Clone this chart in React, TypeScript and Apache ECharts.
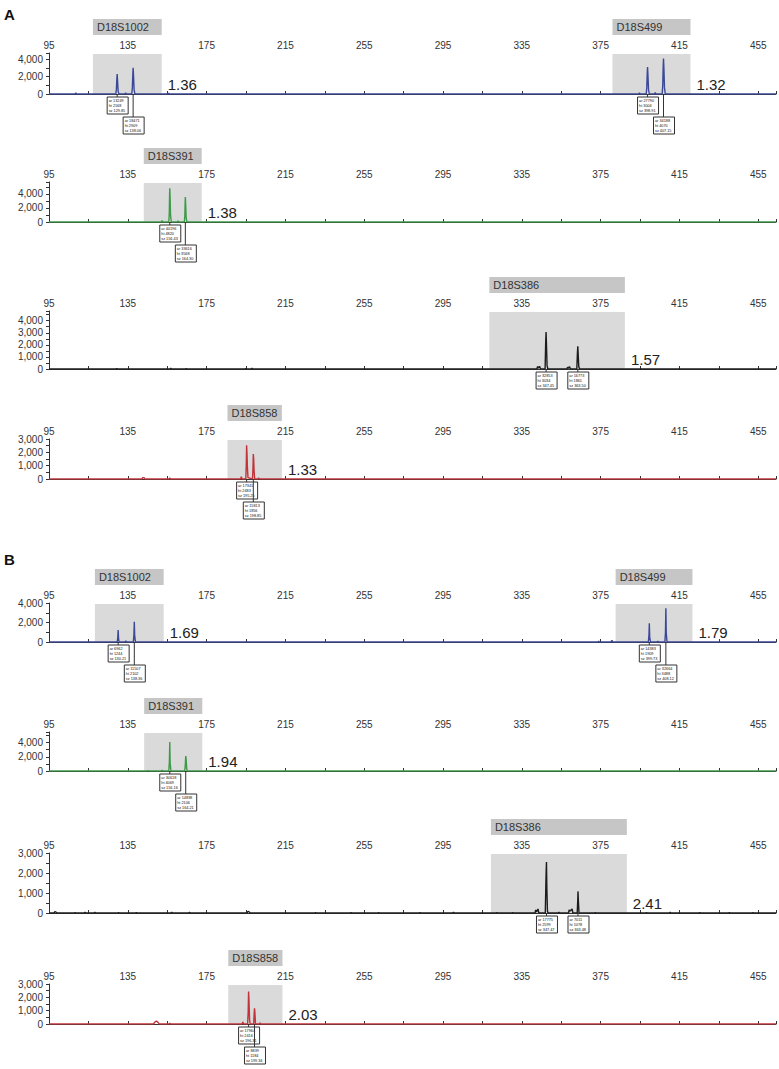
import React, { useEffect, useRef } from "react";
import * as echarts from "echarts";

const FONT = "'Liberation Sans', Arial, Helvetica, sans-serif";

// ---- x axis (fragment size, bp) ----
const X_MIN = 95;
const X_MAX = 464;
const X_TICK_STEP = 20;
const X_LABEL_STEP = 40;

// ---- y axes (RFU) per panel: A1..A4, B1..B4 ----
const yMax = [4700, 5700, 4800, 3000, 4000, 5500, 3000, 3000];
const yTickStep = [1000, 1000, 500, 500, 1000, 1000, 500, 500];
const yLabelStep = [2000, 2000, 1000, 1000, 2000, 2000, 1000, 1000];

// ---- dye colours per panel ----
const traceColors = ["#3b4898", "#3d9a48", "#1c1c1c", "#c3343a", "#3b4898", "#3d9a48", "#1c1c1c", "#c3343a"];

// ---- marker bins: [name, start bp, end bp, ratio] ----
const binsA1 = [["D18S1002", 117.3, 152.2, "1.36"], ["D18S499", 381, 420.6, "1.32"]];
const binsA2 = [["D18S391", 143.1, 172.5, "1.38"]];
const binsA3 = [["D18S386", 318.5, 387.3, "1.57"]];
const binsA4 = [["D18S858", 185.6, 213.2, "1.33"]];
const binsB1 = [["D18S1002", 118.3, 153.2, "1.69"], ["D18S499", 382.6, 421.6, "1.79"]];
const binsB2 = [["D18S391", 143.3, 172.8, "1.94"]];
const binsB3 = [["D18S386", 319.3, 388.3, "2.41"]];
const binsB4 = [["D18S858", 186, 213.5, "2.03"]];

// ---- peak annotations: [size bp, stagger level, area, height, size label] ----
const annA1 = [[129.6, 0, "13249", "2168", "129.85"], [137.7, 1, "18471", "2909", "138.06"], [398.8, 0, "27790", "3004", "398.91"], [406.9, 1, "34188", "4070", "407.15"]];
const annA2 = [[156.3, 0, "40196", "4820", "156.43"], [164.2, 1, "33616", "3568", "164.30"]];
const annA3 = [[347.3, 0, "32853", "3034", "347.45"], [363.4, 0, "16773", "1861", "363.50"]];
const annA4 = [[195.3, 0, "17341", "2483", "195.25"], [198.7, 1, "15813", "1856", "198.85"]];
const annB1 = [[130.1, 0, "6962", "1244", "130.21"], [138.3, 1, "11507", "2102", "138.36"], [399.7, 0, "14383", "1909", "399.73"], [408.1, 1, "32664", "3488", "408.12"]];
const annB2 = [[156.3, 0, "30618", "4069", "156.16"], [164.4, 1, "14838", "2106", "164.21"]];
const annB3 = [[347.5, 0, "17775", "2599", "347.47"], [363.5, 0, "7011", "1078", "363.48"]];
const annB4 = [[196.3, 0, "17964", "2416", "196.31"], [199.3, 1, "8839", "1184", "199.34"]];

// ---- traces: [size bp, RFU] ----
const traceA1 = [[95, 0], [108.2, 0], [108.6, 120], [109, 0], [128.9, 0], [129.2, 500], [129.45, 1800], [129.6, 2300], [129.8, 1500], [130.1, 300], [130.5, 0], [133.6, 0], [133.9, 140], [134.2, 0], [137, 0], [137.3, 700], [137.55, 2300], [137.7, 3000], [137.9, 2100], [138.2, 500], [138.6, 0], [155.5, 0], [155.8, 80], [156.1, 0], [394.4, 0], [394.7, 120], [395, 0], [398.1, 0], [398.4, 700], [398.65, 2400], [398.8, 3100], [399, 2200], [399.3, 500], [399.7, 0], [402.4, 0], [402.7, 180], [403, 0], [406.2, 0], [406.5, 900], [406.75, 3200], [406.9, 4080], [407.1, 3000], [407.4, 700], [407.8, 0], [464, 0]];
const traceA2 = [[95, 0], [152.1, 0], [152.4, 220], [152.7, 0], [155.8, 0], [156.05, 1200], [156.2, 3800], [156.3, 4800], [156.45, 3700], [156.7, 900], [157.1, 0], [160.2, 0], [160.5, 180], [160.8, 0], [163.7, 0], [163.95, 900], [164.1, 2800], [164.2, 3570], [164.35, 2700], [164.6, 700], [165, 0], [464, 0]];
const traceA3 = [[95, 0], [129.2, 0], [129.4, 60], [129.6, 0], [156.6, 0], [156.8, 70], [157, 0], [164.5, 0], [164.7, 60], [164.9, 0], [194.8, 0], [195, 50], [195.2, 0], [197.8, 0], [198, 90], [198.2, 0], [342.6, 0], [343, 200], [343.4, 80], [344, 220], [344.5, 0], [346.8, 0], [347.1, 2200], [347.3, 3050], [347.5, 2000], [347.8, 300], [348.2, 0], [357.8, 0], [358.2, 150], [358.6, 60], [359.2, 200], [359.6, 0], [362.9, 0], [363.2, 1300], [363.4, 1880], [363.6, 1200], [363.9, 200], [364.3, 0], [464, 0]];
const traceA4 = [[95, 0], [142.2, 0], [142.5, 100], [143.3, 100], [143.6, 0], [156, 0], [156.3, 80], [156.6, 0], [164, 0], [164.2, 40], [164.4, 0], [192.2, 0], [192.6, 160], [193, 0], [194.9, 0], [195.15, 1200], [195.3, 2530], [195.5, 1900], [195.7, 900], [196, 100], [198.3, 0], [198.55, 900], [198.7, 1880], [198.9, 1500], [199.1, 600], [199.4, 0], [201.1, 0], [201.4, 100], [201.7, 0], [464, 0]];
const traceB1 = [[95, 0], [129.6, 0], [129.9, 400], [130.1, 1230], [130.3, 350], [130.6, 0], [133.7, 0], [134, 130], [134.3, 0], [137.8, 0], [138.1, 700], [138.3, 2080], [138.5, 600], [138.9, 0], [373.7, 0], [374, 100], [374.3, 0], [380.2, 0], [380.7, 180], [381.2, 0], [399.2, 0], [399.5, 600], [399.7, 1920], [399.9, 500], [400.3, 0], [403.7, 0], [404, 100], [404.3, 0], [407.6, 0], [407.9, 1000], [408.1, 3460], [408.3, 900], [408.7, 0], [464, 0]];
const traceB2 = [[95, 0], [145.1, 0], [145.4, 80], [145.7, 0], [152.1, 0], [152.4, 120], [152.7, 0], [155.8, 0], [156.1, 1300], [156.3, 4100], [156.5, 1100], [156.9, 0], [160.3, 0], [160.5, 80], [160.7, 0], [163.9, 0], [164.2, 900], [164.4, 2100], [164.6, 1700], [164.9, 300], [165.2, 0], [464, 0]];
const traceB3 = [[95, 0], [97.5, 0], [98, 70], [98.6, 40], [99, 0], [108, 0], [108.3, 30], [108.6, 0], [113, 0], [113.3, 40], [113.6, 0], [118, 0], [118.3, 35], [118.6, 0], [130, 0], [130.3, 30], [130.6, 0], [139, 0], [139.3, 30], [139.6, 0], [157, 0], [157.3, 40], [157.6, 0], [166, 0], [166.3, 35], [166.6, 0], [195.5, 0], [196, 80], [196.6, 60], [197, 0], [230, 0], [230.3, 30], [230.6, 0], [248, 0], [248.3, 30], [248.6, 0], [262, 0], [262.3, 30], [262.6, 0], [283, 0], [283.3, 30], [283.6, 0], [300, 0], [300.3, 40], [300.6, 0], [322, 0], [322.3, 30], [322.6, 0], [330, 0], [330.3, 30], [330.6, 0], [341.7, 0], [342, 150], [342.4, 60], [343.2, 200], [343.6, 0], [346.9, 0], [347.2, 1500], [347.35, 2100], [347.5, 2550], [347.7, 1200], [348, 100], [348.3, 0], [353.5, 0], [353.8, 40], [354.1, 0], [358.7, 0], [359, 150], [359.5, 100], [360.5, 200], [360.9, 0], [363.1, 0], [363.4, 700], [363.5, 1080], [363.7, 600], [364, 0], [372, 0], [372.3, 30], [372.6, 0], [398, 0], [398.3, 30], [398.6, 0], [410, 0], [410.3, 40], [410.6, 0], [425, 0], [425.3, 30], [425.6, 0], [440, 0], [440.3, 30], [440.6, 0], [452, 0], [452.3, 30], [452.6, 0], [464, 0]];
const traceB4 = [[95, 0], [148, 0], [148.8, 150], [149.5, 220], [150.3, 120], [151, 0], [156, 0], [156.3, 70], [156.6, 0], [164.8, 0], [165, 40], [165.2, 0], [193, 0], [193.4, 150], [193.8, 0], [195.8, 0], [196.1, 900], [196.3, 2430], [196.5, 1800], [196.8, 300], [197.1, 0], [198.9, 0], [199.1, 700], [199.3, 1180], [199.5, 900], [199.8, 0], [201.8, 0], [202.1, 80], [202.4, 0], [464, 0]];

const traces = [traceA1, traceA2, traceA3, traceA4, traceB1, traceB2, traceB3, traceB4];
const bins = [binsA1, binsA2, binsA3, binsA4, binsB1, binsB2, binsB3, binsB4];
const anns = [annA1, annA2, annA3, annA4, annB1, annB2, annB3, annB4];

// ---- layout (pixel rows of each panel: x-axis line and zero line) ----
const panelTop = [53, 182, 311, 439, 603, 732, 853, 984];
const panelBottom = [94, 222, 369, 479, 642, 771, 913, 1024];

const withCommas = (v: number) => String(v).replace(/\B(?=(\d{3})+(?!\d))/g, ",");

function buildOption() {
  const grid: any[] = [];
  const xAxis: any[] = [];
  const yAxis: any[] = [];
  const series: any[] = [];
  const axisColor = "#333";
  for (let i = 0; i < 8; i++) {
    grid.push({ left: 49, width: 729, top: panelTop[i], height: panelBottom[i] - panelTop[i] });
    xAxis.push({
      gridIndex: i, type: "value", position: "top", min: X_MIN, max: X_MAX, interval: X_TICK_STEP,
      axisLine: { show: true, lineStyle: { color: axisColor, width: 1 } },
      axisTick: { show: true, length: 3, lineStyle: { color: axisColor } },
      splitLine: { show: false },
      axisLabel: {
        show: true, margin: 3, fontSize: 10, color: "#333", fontFamily: FONT,
        formatter: (v: number) => { const r = Math.round(v); return (r - X_MIN) % X_LABEL_STEP === 0 && Math.abs(r - v) < 0.01 ? String(r) : ""; },
      },
    });
    const step = yLabelStep[i];
    yAxis.push({
      gridIndex: i, type: "value", min: 0, max: yMax[i], interval: yTickStep[i],
      axisLine: { show: true, lineStyle: { color: axisColor, width: 1 } },
      axisTick: { show: true, length: 3, lineStyle: { color: axisColor } },
      splitLine: { show: false },
      axisLabel: {
        show: true, margin: 6, fontSize: 10, color: "#333", fontFamily: FONT,
        formatter: (v: number) => (v % step === 0 ? withCommas(v) : ""),
      },
    });
    const pb = bins[i];
    series.push({
      type: "custom", xAxisIndex: i, yAxisIndex: i, z: 1, clip: false, silent: true,
      data: pb.map((b: any) => [b[1], 0]),
      renderItem: (params: any, api: any) => {
        const b: any = pb[params.dataIndex];
        const cs = params.coordSys;
        const x1 = api.coord([b[1], 0])[0];
        const x2 = api.coord([b[2], 0])[0];
        const top = cs.y;
        const bottom = cs.y + cs.height;
        return {
          type: "group",
          children: [
            { type: "rect", shape: { x: x1, y: top + 1, width: x2 - x1, height: bottom - top - 1 }, style: { fill: "#dadada" } },
            { type: "rect", shape: { x: x1, y: top - 34, width: x2 - x1, height: 16 }, style: { fill: "#c6c6c6" } },
            { type: "text", x: x1 + 4, y: top - 26, style: { text: b[0], fontSize: 11, fontFamily: FONT, fill: "#333", align: "left", verticalAlign: "middle" } },
            { type: "text", x: x2 + 6, y: bottom - 10, style: { text: b[3], fontSize: 15, fontFamily: FONT, fill: "#222", align: "left", verticalAlign: "middle" } },
          ],
        };
      },
    });
    series.push({
      type: "line", xAxisIndex: i, yAxisIndex: i, z: 3, data: traces[i], showSymbol: false, symbol: "none",
      lineStyle: { color: traceColors[i], width: 1.4 }, itemStyle: { color: traceColors[i] }, silent: true,
    });
    const pa = anns[i];
    series.push({
      type: "custom", xAxisIndex: i, yAxisIndex: i, z: 4, clip: false, silent: true,
      data: pa.map((a: any) => [a[0], 0]),
      renderItem: (params: any, api: any) => {
        const a: any = pa[params.dataIndex];
        const p = api.coord([a[0], 0]);
        const top = p[1] + 3 + a[1] * 20;
        return {
          type: "group",
          children: [
            { type: "line", shape: { x1: p[0], y1: p[1], x2: p[0], y2: top }, style: { stroke: "#333", lineWidth: 1 } },
            { type: "rect", shape: { x: p[0] - 10, y: top, width: 21, height: 17 }, style: { fill: "#fff", stroke: "#333", lineWidth: 1 } },
            { type: "text", x: p[0] - 8.5, y: top + 2, style: { text: "ar " + a[2] + "\nht " + a[3] + "\nsz " + a[4], fontSize: 3.8, lineHeight: 4.6, fontFamily: FONT, fill: "#111", align: "left", verticalAlign: "top" } },
          ],
        };
      },
    });
  }
  return {
    animation: false,
    backgroundColor: "#ffffff",
    grid, xAxis, yAxis, series,
    graphic: [
      { type: "text", left: 4, top: 7, style: { text: "A", fontSize: 15, fontWeight: "bold", fontFamily: FONT, fill: "#111" } },
      { type: "text", left: 4, top: 552, style: { text: "B", fontSize: 15, fontWeight: "bold", fontFamily: FONT, fill: "#111" } },
    ],
  };
}

export default function App() {
  const ref = useRef<HTMLDivElement>(null);
  useEffect(() => {
    if (!ref.current) return;
    const chart = echarts.init(ref.current, null, { renderer: "svg" });
    chart.setOption(buildOption() as any);
    return () => chart.dispose();
  }, []);
  return <div ref={ref} style={{ position: "absolute", left: 0, top: 0, width: 779, height: 1069 }} />;
}
